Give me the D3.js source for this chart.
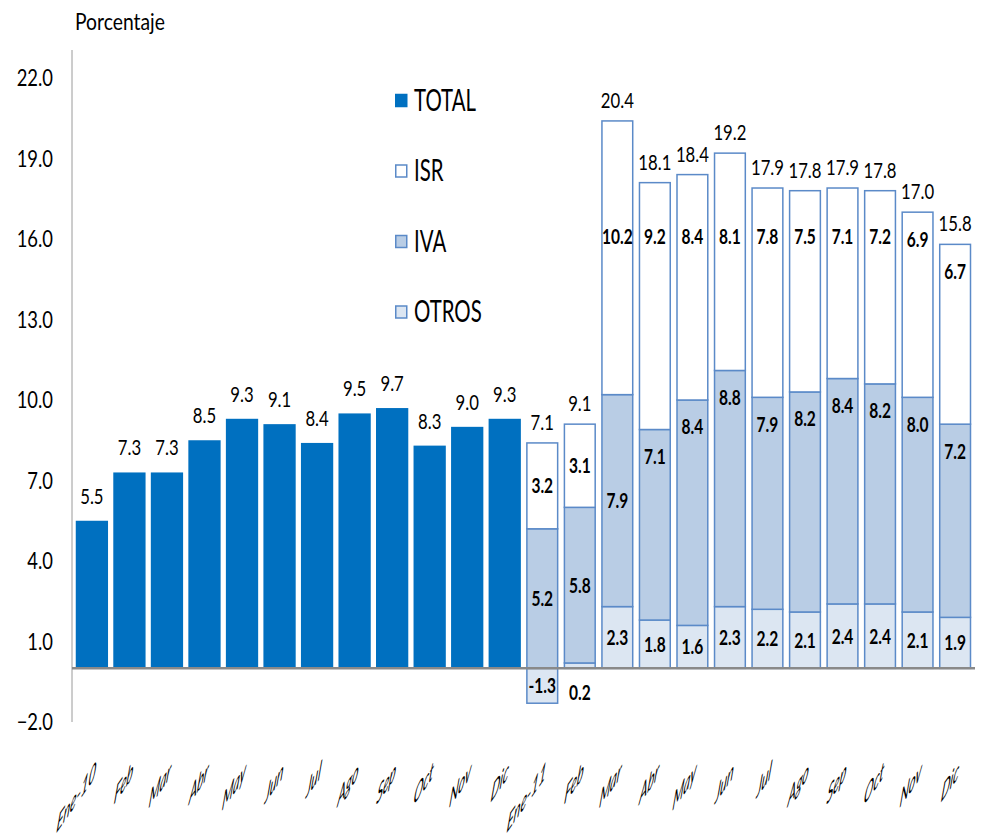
<!DOCTYPE html>
<html>
<head>
<meta charset="utf-8">
<script src="https://cdn.jsdelivr.net/npm/d3@7"></script>
<style>
  body { margin: 0; background: #fff; }
  text { font-family: Lato, "Open Sans", "Liberation Sans", sans-serif; fill: #000; }
</style>
</head>
<body>
<div id="chart"></div>
<script>
// meses (se repiten, por eso se usa el indice como dominio)
const months = ["Ene-10", "Feb", "Mar", "Abr", "May", "Jun", "Jul", "Ago", "Sep", "Oct", "Nov", "Dic",
                "Ene-11", "Feb", "Mar", "Abr", "May", "Jun", "Jul", "Ago", "Sep", "Oct", "Nov", "Dic"];
// 2010: solo total
const total2010 = [5.5, 7.3, 7.3, 8.5, 9.3, 9.1, 8.4, 9.5, 9.7, 8.3, 9.0, 9.3];
// 2011: componentes
const isr   = [3.2, 3.1, 10.2, 9.2, 8.4, 8.1, 7.8, 7.5, 7.1, 7.2, 6.9, 6.7];
const iva   = [5.2, 5.8, 7.9, 7.1, 8.4, 8.8, 7.9, 8.2, 8.4, 8.2, 8.0, 7.2];
const otros = [-1.3, 0.2, 2.3, 1.8, 1.6, 2.3, 2.2, 2.1, 2.4, 2.4, 2.1, 1.9];
const total2011 = [7.1, 9.1, 20.4, 18.1, 18.4, 19.2, 17.9, 17.8, 17.9, 17.8, 17.0, 15.8];
const yTicks = [-2, 1, 4, 7, 10, 13, 16, 19, 22];
const legendItems = ["TOTAL", "ISR", "IVA", "OTROS"];

const w = 989, h = 838;
const colTotal = "#0070C0", colBorder = "#5B8AC8";
const fills = { ISR: "#ffffff", IVA: "#B9CDE5", OTROS: "#DCE6F2" };

// texto angosto (la imagen original esta comprimida a lo ancho)
function tr(px, py, sx) {
  return "translate(" + px + "," + py + ") scale(" + sx + ",1)";
}

const svg = d3.select("#chart").append("svg").attr("width", w).attr("height", h);

const x = d3.scaleBand().domain(d3.range(months.length)).range([72, 975])
    .paddingInner(0.14).paddingOuter(0.1);
const y = d3.scaleLinear().domain([-2, 22]).range([722, 78]);
const cx = i => x(i) + x.bandwidth() / 2;

// eje y
svg.append("line").attr("x1", 72).attr("x2", 72).attr("y1", 50).attr("y2", y(-2))
    .attr("stroke", "#9a9a9a").attr("stroke-width", 1);
svg.append("g").selectAll("text").data(yTicks).enter().append("text")
    .attr("transform", d => tr(53, y(d), 0.8)).attr("dy", "0.36em")
    .attr("text-anchor", "end").style("font-size", "23px")
    .text(d => d3.format(".1f")(d));
svg.append("text").attr("transform", tr(75, 30, 0.84)).style("font-size", "23px").text("Porcentaje");

// 2010
const g2010 = svg.append("g");
g2010.selectAll("rect").data(total2010).enter().append("rect")
    .attr("x", (d, i) => x(i)).attr("width", x.bandwidth())
    .attr("y", d => y(d)).attr("height", d => y(0) - y(d))
    .attr("fill", colTotal);
g2010.selectAll("text").data(total2010).enter().append("text")
    .attr("transform", (d, i) => tr(cx(i), y(d) - 17, 0.76))
    .attr("text-anchor", "middle").style("font-size", "22px")
    .text(d => d.toFixed(1));

// 2011 apilado
const rows = isr.map((d, i) => ({ idx: i + 12, ISR: d, IVA: iva[i], OTROS: otros[i] }));
const series = d3.stack().keys(["OTROS", "IVA", "ISR"]).offset(d3.stackOffsetDiverging)(rows);

const g2011 = svg.append("g");
series.forEach(s => {
  const gs = g2011.append("g");
  gs.selectAll("rect").data(s).enter().append("rect")
      .attr("x", d => x(d.data.idx) + 0.75).attr("width", x.bandwidth() - 1.5)
      .attr("y", d => y(Math.max(d[0], d[1]))).attr("height", d => Math.abs(y(d[0]) - y(d[1])))
      .attr("fill", fills[s.key]).attr("stroke", colBorder).attr("stroke-width", 1.5);
  gs.selectAll("text").data(s).enter().append("text")
      .attr("transform", d => {
        const v = d.data[s.key], lo = Math.min(d[0], d[1]), hi = Math.max(d[0], d[1]);
        let p = (lo + hi) / 2;
        if (Math.abs(v) < 0.5) p = -0.9;
        else if (s.key === "ISR" && v >= 5) p = Math.min(hi - 1.0, 16.1);
        else if (s.key === "IVA" && v >= 6.5 && d.data.ISR < 10) p = hi - 1.0;
        return tr(cx(d.data.idx), y(p), 0.74);
      })
      .attr("dy", "0.36em").attr("text-anchor", "middle")
      .style("font-size", "21px").style("font-weight", "bold")
      .text(d => d.data[s.key].toFixed(1));
});
const tops = rows.map(r => r.ISR + r.IVA + Math.max(r.OTROS, 0));
g2011.append("g").selectAll("text").data(total2011).enter().append("text")
    .attr("transform", (d, i) => tr(cx(i + 12), y(tops[i]) - 13, 0.76))
    .attr("text-anchor", "middle").style("font-size", "22px")
    .text(d => d.toFixed(1));

// linea cero
svg.append("line").attr("x1", 72).attr("x2", 975).attr("y1", y(0)).attr("y2", y(0))
    .attr("stroke", "#898989").attr("stroke-width", 2.5);

// etiquetas eje x (inclinadas)
svg.append("g").selectAll("text").data(months).enter().append("text")
    .attr("transform", (d, i) => "translate(" + (cx(i) + 3) + ",778) matrix(0.56,-0.8,-0.15,1.15,0,0)")
    .attr("text-anchor", "end").style("font-size", "23px").style("font-style", "italic")
    .text(d => d);

// leyenda
const leg = svg.append("g").selectAll("g").data(legendItems).enter().append("g")
    .attr("transform", (d, i) => "translate(395," + (100 + i * 70.5) + ")");
leg.append("rect").attr("x", 0.75).attr("y", -5.5).attr("width", 11).attr("height", 12)
    .attr("fill", d => d === "TOTAL" ? colTotal : fills[d])
    .attr("stroke", d => d === "TOTAL" ? colTotal : colBorder).attr("stroke-width", 1.5);
leg.append("text").attr("transform", tr(19, 0, 0.68)).attr("dy", "0.36em")
    .style("font-size", "30px").text(d => d);
</script>
</body>
</html>
